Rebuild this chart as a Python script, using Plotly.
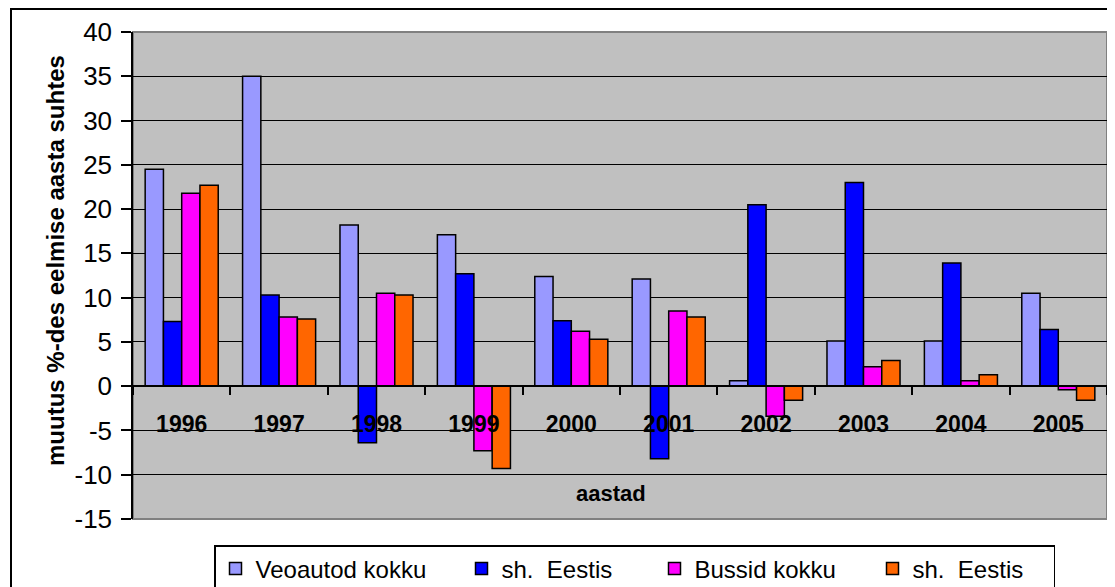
import plotly.graph_objects as go

years = ["1996", "1997", "1998", "1999", "2000", "2001", "2002", "2003", "2004", "2005"]
veoautod = [24.5, 35.0, 18.2, 17.1, 12.4, 12.1, 0.6, 5.1, 5.1, 10.5]
veoautod_ee = [7.3, 10.3, -6.4, 12.7, 7.4, -8.2, 20.5, 23.0, 13.9, 6.4]
bussid = [21.8, 7.8, 10.5, -7.3, 6.2, 8.5, -3.4, 2.2, 0.6, -0.4]
bussid_ee = [22.7, 7.6, 10.3, -9.3, 5.3, 7.8, -1.6, 2.9, 1.3, -1.6]
y_ticks = list(range(-15, 41, 5))
y_ticklabels = [str(v) for v in y_ticks]

series = [
    ("Veoautod kokku", veoautod, "#9999FF", 201),
    ("sh.\u00a0 Eestis", veoautod_ee, "#0000FF", 148),
    ("Bussid kokku", bussid, "#FF00FF", 173),
    ("sh.\u00a0 Eestis", bussid_ee, "#FF6600", 136),
]

fig = go.Figure()
for name, vals, col, lw in series:
    fig.add_trace(go.Bar(
        x=years, y=vals, name=name, legendwidth=lw,
        marker=dict(color=col, line=dict(color="black", width=1.5)),
    ))

ymin, ymax = -15, 40
zero_pos = (0 - ymin) / (ymax - ymin)

# target plot area on screen: x 133..1107, y 32..519 (page has an 8px body margin)
PL, PT, PW, PH = 133, 32, 974, 487
OFF = 8
W, H = 1115, 587

def px_x(x):
    return (x - PL) / PW

def px_y(y):
    return (PT + PH - y) / PH

fig.update_layout(
    template="none",
    width=W, height=H,
    margin=dict(l=PL - OFF, t=PT - OFF, r=W - (PL - OFF) - PW, b=H - (PT - OFF) - PH,
                pad=0, autoexpand=False),
    paper_bgcolor="white",
    plot_bgcolor="#C0C0C0",
    font=dict(family="Arial, Liberation Sans, sans-serif", color="black", size=22),
    barmode="group",
    bargap=0.25,
    bargroupgap=0,
    showlegend=True,
    legend=dict(
        orientation="h",
        x=px_x(214), xanchor="left",
        y=px_y(545), yanchor="top",
        bgcolor="white", bordercolor="black", borderwidth=1.5,
        font=dict(size=24),
        traceorder="normal",
    ),
    xaxis=dict(
        type="category",
        anchor="free", position=zero_pos,
        automargin=False,
        showline=True, linecolor="black", linewidth=1.5,
        ticks="outside", tickson="boundaries", ticklen=8, tickcolor="black", tickwidth=1.5,
        showgrid=False,
        tickfont=dict(size=23, weight="bold"),
        ticklabelstandoff=17,
    ),
    yaxis=dict(
        range=[ymin, ymax],
        automargin=False,
        tickvals=y_ticks, ticktext=y_ticklabels,
        showline=True, linecolor="black", linewidth=1.5,
        ticks="outside", ticklen=10, tickcolor="black", tickwidth=1.5,
        showgrid=True, gridcolor="black", gridwidth=1.3,
        zeroline=True, zerolinecolor="black", zerolinewidth=1.5,
        tickfont=dict(size=26),
        ticklabelstandoff=4,
    ),
    annotations=[
        dict(text="<b>muutus %-des eelmise aasta suhtes</b>", textangle=-90,
             xref="paper", yref="paper", x=px_x(55), y=px_y(261),
             xanchor="center", yanchor="middle", showarrow=False,
             font=dict(size=24)),
        dict(text="<b>aastad</b>",
             xref="paper", yref="paper", x=px_x(611), y=px_y(493),
             xanchor="center", yanchor="middle", showarrow=False,
             font=dict(size=22)),
    ],
    shapes=[
        dict(type="rect", xref="paper", yref="paper", x0=0, x1=1, y0=0, y1=1,
             line=dict(color="#808080", width=2), layer="below"),
        dict(type="rect", xref="paper", yref="paper",
             x0=px_x(11), x1=1.2, y0=-0.5, y1=px_y(9),
             line=dict(color="black", width=2)),
    ],
)

fig.write_html("out.html")
